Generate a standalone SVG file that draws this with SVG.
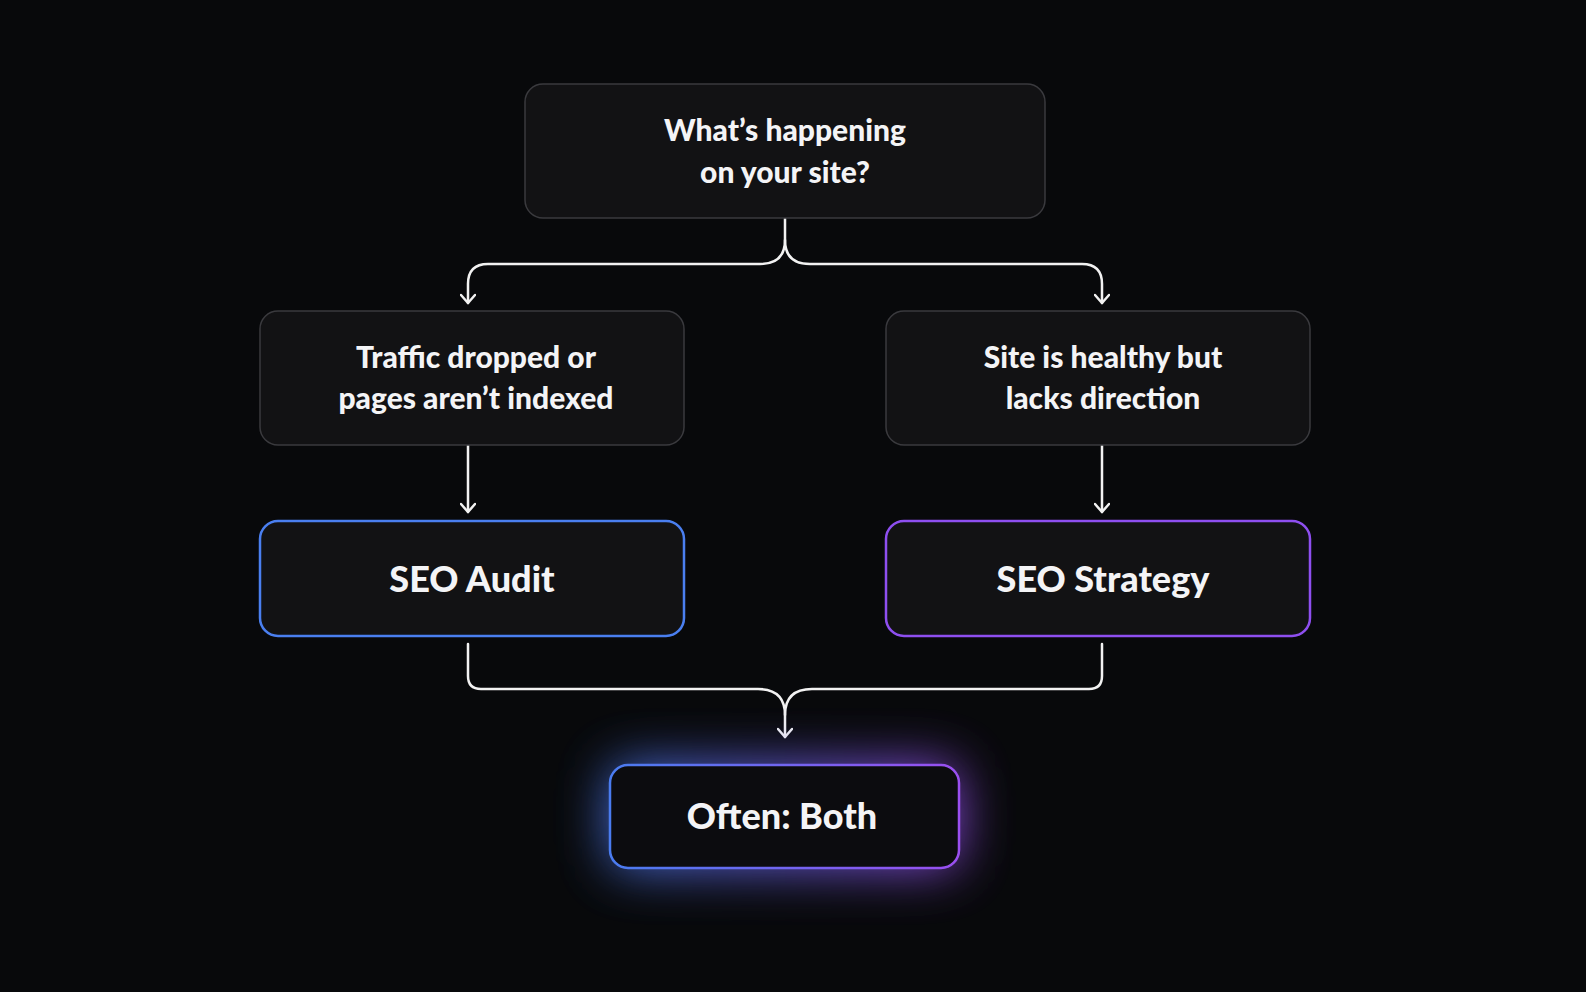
<svg xmlns="http://www.w3.org/2000/svg" width="1586" height="992" viewBox="0 0 1586 992">
<style>
.box{fill:#121214;stroke:#3a3a3e;stroke-width:1.5}
.t{font-family:Lato,"Liberation Sans",sans-serif;font-weight:900;fill:#f4f4f6;text-anchor:middle}
.s{font-size:30px}.b{font-size:36px}
.c{fill:none;stroke:#f2f2f2;stroke-width:2.5;stroke-linecap:round;stroke-linejoin:round}
</style>
<defs>
<linearGradient id="g" x1="0" x2="1" y1="0" y2="0"><stop offset="0" stop-color="#4a7cf0"/><stop offset="1" stop-color="#9a4ff0"/></linearGradient>
<filter id="glow" x="-50%" y="-80%" width="200%" height="260%"><feGaussianBlur stdDeviation="26"/></filter>
<marker id="a" markerWidth="16" markerHeight="16" refX="12" refY="8" orient="auto" markerUnits="userSpaceOnUse" viewBox="0 0 16 16"><path d="M4,1 L12,8 L4,15" fill="none" stroke="#f2f2f2" stroke-width="2.5" stroke-linecap="round" stroke-linejoin="round"/></marker>
</defs>
<rect width="1586" height="992" fill="#08090b"/>
<g id="connectors">
<path class="c" d="M785,218 V240 Q785,264 760,264 H488 Q468,264 468,284 V303" marker-end="url(#a)"/>
<path class="c" d="M785,240 Q785,264 810,264 H1082 Q1102,264 1102,284 V303" marker-end="url(#a)"/>
<path class="c" d="M468,442 V512" marker-end="url(#a)"/>
<path class="c" d="M1102,442 V512" marker-end="url(#a)"/>
<path class="c" d="M468,644 V676 Q468,689 481,689 H758 Q785,689 785,715 V737" marker-end="url(#a)"/>
<path class="c" d="M1102,644 V676 Q1102,689 1089,689 H812 Q785,689 785,715"/>
</g>
<g id="n1"><rect class="box" x="525" y="84" width="520" height="134" rx="18"/>
<text class="t s" x="785" y="141">What’s happening</text><text class="t s" x="785" y="183">on your site?</text></g>
<g id="n2"><rect class="box" x="260" y="311" width="424" height="134" rx="18"/>
<text class="t s" x="476" y="368">Traffic dropped or</text><text class="t s" x="476" y="409">pages aren’t indexed</text></g>
<g id="n3"><rect class="box" x="886" y="311" width="424" height="134" rx="18"/>
<text class="t s" x="1103" y="368">Site is healthy but</text><text class="t s" x="1103" y="409">lacks direction</text></g>
<g id="n4"><rect x="260" y="521" width="424" height="115" rx="18" fill="#121214" stroke="#4a7ff0" stroke-width="2.5"/>
<text class="t b" x="472" y="592">SEO Audit</text></g>
<g id="n5"><rect x="886" y="521" width="424" height="115" rx="18" fill="#121214" stroke="#8e4ff0" stroke-width="2.5"/>
<text class="t b" x="1103" y="592">SEO Strategy</text></g>
<g id="n6"><rect x="610" y="765" width="349" height="103" rx="18" fill="url(#g)" filter="url(#glow)" opacity="0.9"/>
<rect x="610" y="765" width="349" height="103" rx="18" fill="#0c0c0f" stroke="url(#g)" stroke-width="2.5"/>
<text class="t b" x="782" y="829">Often: Both</text></g>
</svg>
